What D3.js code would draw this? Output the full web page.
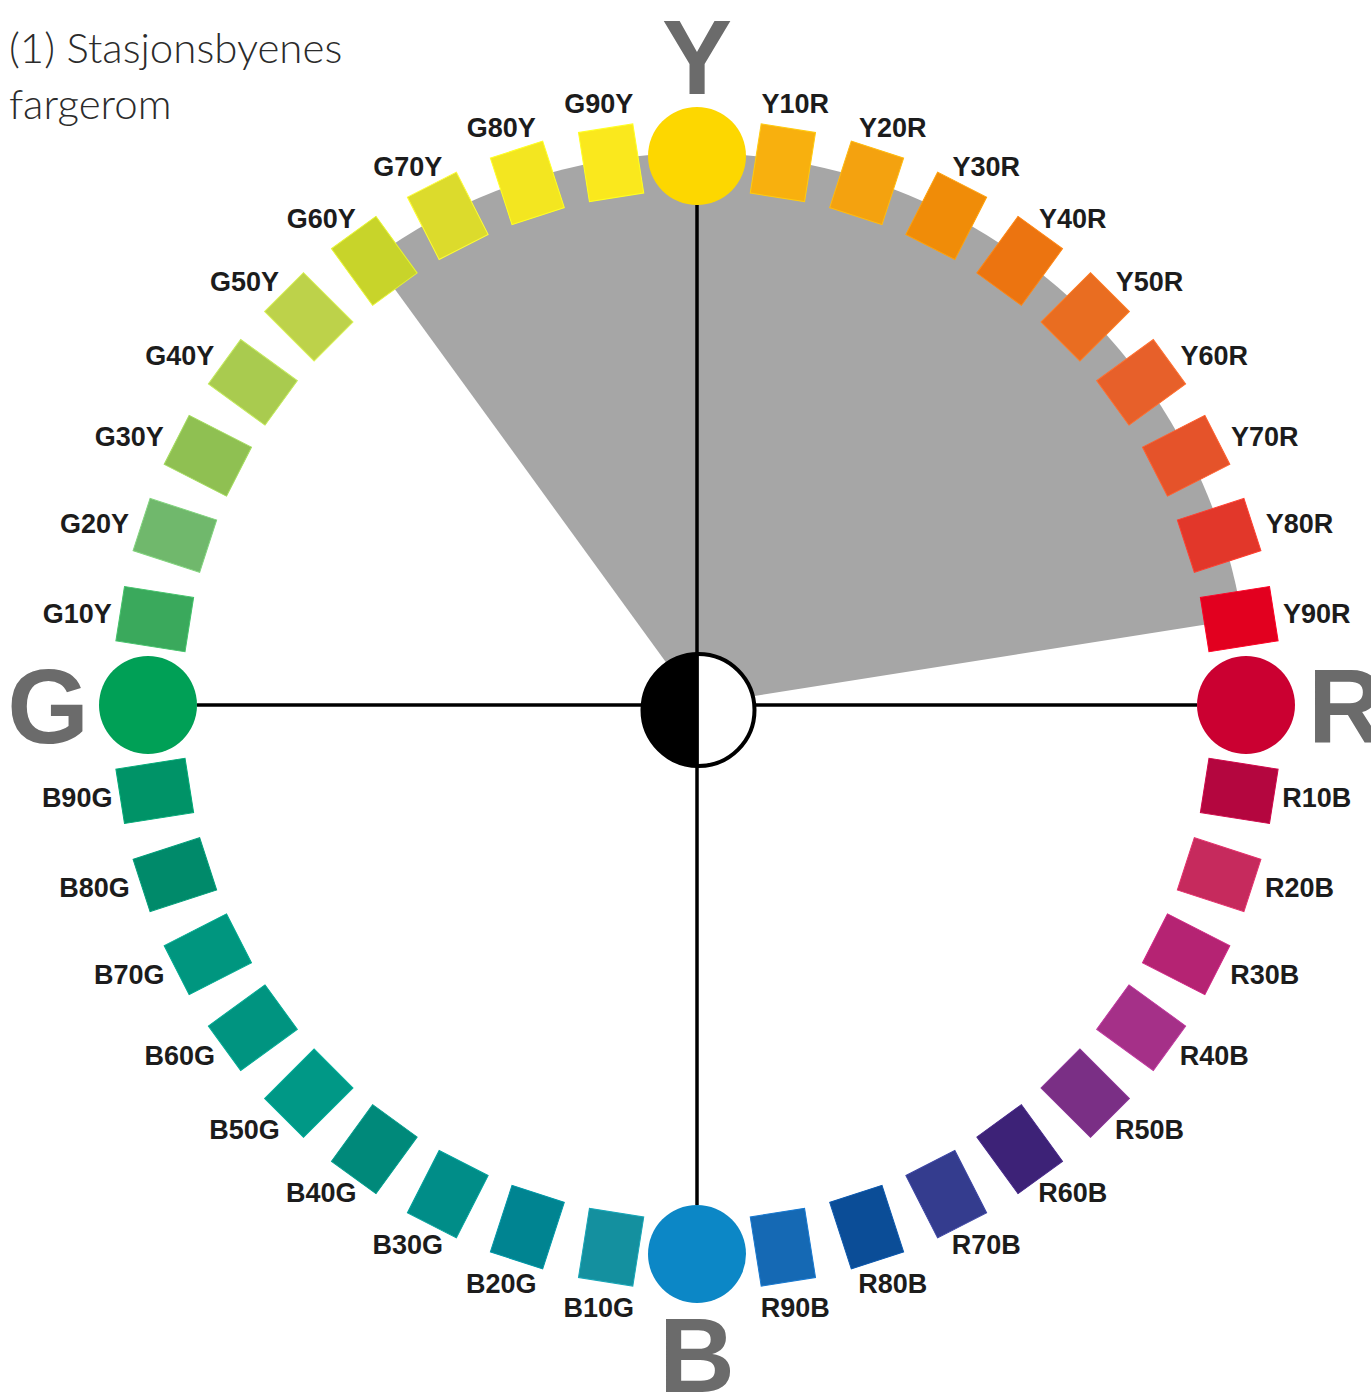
<!DOCTYPE html>
<html>
<head>
<meta charset="utf-8">
<script src="https://cdn.jsdelivr.net/npm/d3@7"></script>
<style>
  html, body { margin: 0; padding: 0; background: #fff; }
  svg { display: block; }
</style>
</head>
<body>
<div id="chart"></div>
<script>
// NCS hue circle, clockwise from Y
var hues = ["Y","Y10R","Y20R","Y30R","Y40R","Y50R","Y60R","Y70R","Y80R","Y90R",
            "R","R10B","R20B","R30B","R40B","R50B","R60B","R70B","R80B","R90B",
            "B","B10G","B20G","B30G","B40G","B50G","B60G","B70G","B80G","B90G",
            "G","G10Y","G20Y","G30Y","G40Y","G50Y","G60Y","G70Y","G80Y","G90Y"];

var hueColors = ["#fdd700","#f8b00e","#f4a20f","#f08c08","#ec7410","#e96d21","#e7602a","#e5532a","#e2372a","#e2001f",
                 "#cb0031","#b4063f","#c62a5d","#b52373","#a53088","#7a2f85","#3d2277","#343c8e","#0b4d97","#1569b4",
                 "#0c87c6","#14909f","#008491","#008d88","#00897a","#009886","#009480","#00967f","#008a6a","#009367",
                 "#00a056","#3aa95c","#70b86c","#8fc052","#a9cb4f","#bdd24a","#c8d42a","#dcdb2c","#f3e620","#fae81d"];

var primaries = ["Y","R","B","G"];

// the grey sector (station towns' colour space)
var sectorFrom = "G60Y",
    sectorTo = "Y90R";

var titleLines = ["(1) Stasjonsbyenes", "fargerom"];

var width = 1371, height = 1392,
    cx = 697, cy = 705,
    ringR = 549,
    sectorR = 552,
    dotR = 49;

var svg = d3.select("#chart").append("svg")
    .attr("width", width)
    .attr("height", height);

var angle = d3.scaleLinear()
    .domain([0, hues.length])
    .range([0, 2 * Math.PI]);

function idx(h) { return hues.indexOf(h); }
function px(a, r) { return cx + r * Math.sin(a); }
function py(a, r) { return cy - r * Math.cos(a); }

var g = svg.append("g");

// grey wedge
var a0 = angle(idx(sectorFrom)) - 2 * Math.PI,
    a1 = angle(idx(sectorTo));
g.append("path")
    .attr("transform", "translate(" + cx + "," + cy + ")")
    .attr("d", d3.arc()({innerRadius: 0, outerRadius: sectorR, startAngle: a0, endAngle: a1}))
    .attr("fill", "#a6a6a6");

// axes between the primaries
var prim = primaries.map(function(p) { return {name: p, i: idx(p), a: angle(idx(p))}; });
g.append("line")
    .attr("x1", px(prim[0].a, ringR - dotR)).attr("y1", py(prim[0].a, ringR - dotR))
    .attr("x2", px(prim[2].a, ringR - dotR)).attr("y2", py(prim[2].a, ringR - dotR))
    .attr("stroke", "#000").attr("stroke-width", 3.5);
g.append("line")
    .attr("x1", px(prim[1].a, ringR - dotR)).attr("y1", py(prim[1].a, ringR - dotR))
    .attr("x2", px(prim[3].a, ringR - dotR)).attr("y2", py(prim[3].a, ringR - dotR))
    .attr("stroke", "#000").attr("stroke-width", 3.5);

// the ring of swatches
var steps = hues.map(function(h, i) { return {name: h, color: hueColors[i], a: angle(i)}; });

g.selectAll("rect.step")
    .data(steps.filter(function(d) { return primaries.indexOf(d.name) < 0; }))
  .enter().append("rect")
    .attr("class", "step")
    .attr("x", -27.5).attr("y", -35)
    .attr("width", 55).attr("height", 70)
    .attr("transform", function(d) {
      return "translate(" + px(d.a, ringR) + "," + py(d.a, ringR) + ") rotate(" + (d.a * 180 / Math.PI) + ")";
    })
    .attr("fill", function(d) { return d.color; })
    .attr("stroke", function(d) { return d3.color(d.color).brighter(0.4); })
    .attr("stroke-width", 1);

g.selectAll("circle.prim")
    .data(steps.filter(function(d) { return primaries.indexOf(d.name) >= 0; }))
  .enter().append("circle")
    .attr("class", "prim")
    .attr("cx", function(d) { return px(d.a, ringR); })
    .attr("cy", function(d) { return py(d.a, ringR); })
    .attr("r", dotR)
    .attr("fill", function(d) { return d.color; });

// centre: black / white
var centre = g.append("g").attr("transform", "translate(" + (cx + 1.5) + "," + (cy + 5) + ")");
centre.append("circle").attr("r", 56).attr("fill", "#fff");
centre.append("path")
    .attr("d", d3.arc()({innerRadius: 0, outerRadius: 56, startAngle: Math.PI, endAngle: 2 * Math.PI}))
    .attr("fill", "#000");
centre.append("circle").attr("r", 56).attr("fill", "none").attr("stroke", "#000").attr("stroke-width", 4);
centre.append("line").attr("x1", -1.5).attr("x2", -1.5).attr("y1", -56).attr("y2", 56)
    .attr("stroke", "#000").attr("stroke-width", 3.5);

// step labels
g.selectAll("text.lab")
    .data(steps.filter(function(d) { return primaries.indexOf(d.name) < 0; }))
  .enter().append("text")
    .attr("class", "lab")
    .attr("x", function(d) {
      var s = Math.sin(d.a);
      return cx + (612 + 28 * Math.sqrt(Math.abs(Math.sin(2 * d.a)))) * s;
    })
    .attr("y", function(d) {
      var s = Math.sin(d.a), c = Math.cos(d.a);
      return cy - (610 - 22 * s * s) * c + 10;
    })
    .attr("text-anchor", "middle")
    .style("font-family", "'Liberation Sans', Arial, sans-serif")
    .style("font-weight", "bold")
    .style("font-size", "27px")
    .style("fill", "#1c1c1c")
    .text(function(d) { return d.name; });

// big primary letters
var bigSize = 105;
g.selectAll("text.big")
    .data(prim)
  .enter().append("text")
    .attr("class", "big")
    .attr("x", function(d) { return px(d.a, 649); })
    .attr("y", function(d) { return py(d.a, 649) + 0.358 * bigSize; })
    .attr("text-anchor", "middle")
    .style("font-family", "'Liberation Sans', Arial, sans-serif")
    .style("font-weight", "bold")
    .style("font-size", bigSize + "px")
    .style("fill", "#6b6b6b")
    .text(function(d) { return d.name; });

// title
var title = svg.append("text")
    .attr("x", 9)
    .attr("y", 63)
    .style("font-family", "Lato, 'Open Sans', sans-serif")
    .style("font-weight", 300)
    .style("font-size", "42px")
    .style("fill", "#2b2b2b");
title.selectAll("tspan")
    .data(titleLines)
  .enter().append("tspan")
    .attr("x", 9)
    .attr("dy", function(d, i) { return i ? 56 : 0; })
    .text(function(d) { return d; });
</script>
</body>
</html>
